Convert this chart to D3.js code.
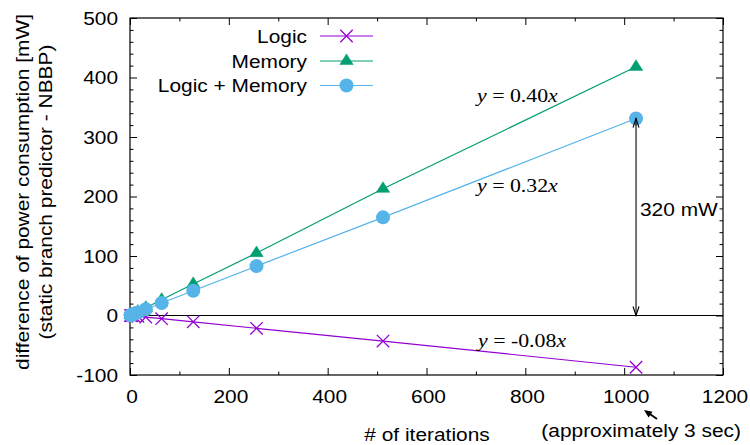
<!DOCTYPE html>
<html><head><meta charset="utf-8">
<script src="https://cdn.jsdelivr.net/npm/d3@7"></script>
<style>body{margin:0;background:#fff}</style>
</head><body>
<svg id="c" width="750" height="445"></svg>
<script>
// ---- data ----
const iterations  = [1, 2, 4, 8, 16, 32, 64, 128, 256, 512, 1024];
const logic       = [-0.1, -0.2, -0.3, -0.7, -1.4, -2.7, -5.4, -10.6, -21.5, -43, -87];
const memory      = [0.4, 0.8, 1.6, 3.3, 6.6, 13, 26.5, 53, 105, 213, 418];
const logicMemory = [0.3, 0.6, 1.3, 2.6, 5.2, 10.4, 21, 41.5, 83, 165, 331];
const seriesNames = ["Logic", "Memory", "Logic + Memory"];
const xTicks = [0, 200, 400, 600, 800, 1000, 1200];
const yTicks = [-100, 0, 100, 200, 300, 400, 500];
const xLabel = "# of iterations";
const yLabel = ["difference of power consumption [mW]", "(static branch predictor - NBBP)"];
const fits = [["0.40", memory], ["0.32", logicMemory], ["-0.08", logic]];
const diffLabel = "320 mW";
const timeLabel = "(approximately 3 sec)";

// ---- layout ----
const L = 130, R = 723, T = 18, B = 375;
const colors = {"Logic": "#9400d3", "Memory": "#009e73", "Logic + Memory": "#56b4e9"};
const SANS = "'Liberation Sans', Arial, Helvetica, sans-serif";
const SERIF = "'Liberation Serif', 'Times New Roman', serif";
const SX = 1.13;

const svg = d3.select("#c");
const x = d3.scaleLinear().domain([0, 1200]).range([L, R]);
const y = d3.scaleLinear().domain([-100, 500]).range([B, T]);

function txt(px, py, s, opt = {}) {
  const t = svg.append("text")
    .attr("transform", `translate(${px},${py}) rotate(${opt.rot || 0}) scale(${opt.sx || SX},1)`)
    .attr("text-anchor", opt.anchor || "start")
    .attr("font-size", opt.size || 18.5)
    .attr("font-family", opt.family || SANS)
    .attr("fill", "#000");
  if (s !== null) t.text(s);
  return t;
}

// ---- ticks (inward, all four sides) ----
const xMinor = d3.range(0, 1201, 100).filter(v => v % 200 !== 0);
const yMinor = d3.range(-100, 501, 20).filter(v => v % 100 !== 0);
function axisG(axis, tx, ty) {
  const g = svg.append("g").attr("transform", `translate(${tx},${ty})`).call(axis);
  g.select(".domain").remove();
  g.selectAll("line").attr("stroke", "#000").attr("stroke-width", 1);
  g.selectAll("text").remove();
  return g;
}
[[xTicks, 7], [xMinor, 3.5]].forEach(([tv, len]) => {
  axisG(d3.axisBottom(x).tickValues(tv).tickSizeInner(-len).tickSizeOuter(0).tickFormat(""), 0, B);
  axisG(d3.axisTop(x).tickValues(tv).tickSizeInner(-len).tickSizeOuter(0).tickFormat(""), 0, T);
});
[[yTicks, 7], [yMinor, 3.5]].forEach(([tv, len]) => {
  axisG(d3.axisLeft(y).tickValues(tv).tickSizeInner(-len).tickSizeOuter(0).tickFormat(""), L, 0);
  axisG(d3.axisRight(y).tickValues(tv).tickSizeInner(-len).tickSizeOuter(0).tickFormat(""), R, 0);
});

// frame
svg.append("rect").attr("x", L).attr("y", T).attr("width", R - L).attr("height", B - T)
  .attr("fill", "none").attr("stroke", "#000").attr("stroke-width", 1.2);
// zero axis
svg.append("line").attr("x1", L).attr("x2", R).attr("y1", y(0)).attr("y2", y(0))
  .attr("stroke", "#000").attr("stroke-width", 1.1);

// tick labels
xTicks.forEach(v => txt(x(v) + 2, 403, String(v), {anchor: "middle"}));
yTicks.forEach(v => txt(118, y(v) + 6.5, String(v), {anchor: "end"}));

// axis titles
txt(427, 441, xLabel, {anchor: "middle"});
txt(28.5, 192, yLabel[0], {anchor: "middle", rot: -90});
txt(52, 192, yLabel[1], {anchor: "middle", rot: -90});

// ---- markers ----
function drawMarker(g, name, cx, cy) {
  const c = colors[name];
  if (name === "Logic") {
    const s = 6.2;
    g.append("path").attr("d", `M${cx - s},${cy - s}L${cx + s},${cy + s}M${cx - s},${cy + s}L${cx + s},${cy - s}`)
      .attr("stroke", c).attr("stroke-width", 1.3).attr("fill", "none");
  } else if (name === "Memory") {
    g.append("path").attr("d", `M${cx},${cy - 7.1}L${cx - 6.7},${cy + 3.6}L${cx + 6.7},${cy + 3.6}Z`)
      .attr("fill", c).attr("stroke", c).attr("stroke-width", 0.5);
  } else {
    g.append("circle").attr("cx", cx).attr("cy", cy).attr("r", 7).attr("fill", c);
  }
}

const seriesData = {"Logic": logic, "Memory": memory, "Logic + Memory": logicMemory};
const line = d3.line().x(d => x(d[0])).y(d => y(d[1]));
seriesNames.forEach(name => {
  const pts = iterations.map((it, i) => [it, seriesData[name][i]]);
  const g = svg.append("g");
  g.append("path").attr("d", line(pts)).attr("fill", "none")
    .attr("stroke", colors[name]).attr("stroke-width", 1.2);
  pts.forEach(p => drawMarker(g, name, x(p[0]), y(p[1])));
});

// ---- legend ----
const legendRows = [36, 61, 85.5];
seriesNames.forEach((name, i) => {
  const ly = legendRows[i];
  txt(307, ly + 6.5, name, {anchor: "end"});
  svg.append("line").attr("x1", 320).attr("x2", 373).attr("y1", ly).attr("y2", ly)
    .attr("stroke", colors[name]).attr("stroke-width", 1.2);
  drawMarker(svg, name, 346.5, ly);
});

// ---- fit labels ----
const fitPos = [[477, 101.5], [477, 191.7], [478, 346.5]];
fits.forEach(([k], i) => {
  const t = txt(fitPos[i][0], fitPos[i][1], null, {family: SERIF, size: 19.5, sx: 1.12});
  t.append("tspan").attr("font-style", "italic").text("y");
  t.append("tspan").text(" = " + k);
  t.append("tspan").attr("font-style", "italic").text("x");
});

// ---- double arrow 320 mW ----
const ax = x(iterations[iterations.length - 1]);
const yTop = y(logicMemory[logicMemory.length - 1]);
const yBot = y(0);
svg.append("line").attr("x1", ax).attr("x2", ax).attr("y1", yTop).attr("y2", yBot)
  .attr("stroke", "#000").attr("stroke-width", 1.1);
svg.append("path").attr("d", `M${ax - 3},${yTop + 9}L${ax},${yTop}L${ax + 3},${yTop + 9}M${ax - 3},${yBot - 9}L${ax},${yBot}L${ax + 3},${yBot - 9}`)
  .attr("fill", "none").attr("stroke", "#000").attr("stroke-width", 1.1);
txt(640, 216, diffLabel);

// ---- time annotation ----
txt(741, 437, timeLabel, {anchor: "end"});
const tip = [644, 410], tail = [657, 419];
svg.append("line").attr("x1", tail[0]).attr("y1", tail[1]).attr("x2", tip[0] + 3).attr("y2", tip[1] + 2)
  .attr("stroke", "#000").attr("stroke-width", 1.8);
const ang = Math.atan2(tip[1] - tail[1], tip[0] - tail[0]);
const hl = 8, hw = 3.5;
const bx = tip[0] - hl * Math.cos(ang), by = tip[1] - hl * Math.sin(ang);
svg.append("path").attr("d",
  `M${tip[0]},${tip[1]}L${bx + hw * Math.sin(ang)},${by - hw * Math.cos(ang)}L${bx - hw * Math.sin(ang)},${by + hw * Math.cos(ang)}Z`)
  .attr("fill", "#000");
</script>
</body></html>
